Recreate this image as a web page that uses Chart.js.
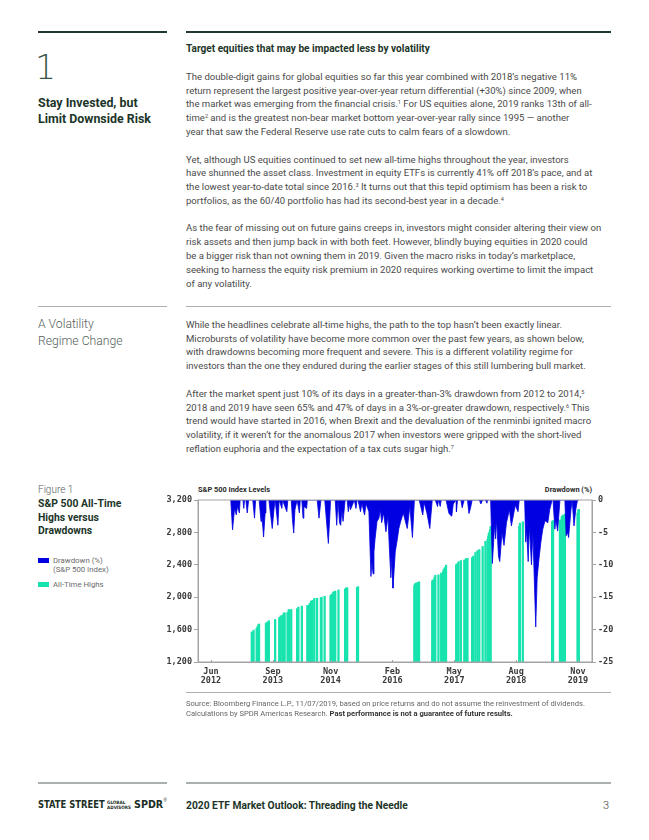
<!DOCTYPE html>
<html>
<head>
<meta charset="utf-8">
<script src="https://cdn.jsdelivr.net/npm/chart.js@4.4.1/dist/chart.umd.min.js"></script>
<style>
  html, body { margin: 0; padding: 0; background: #fff; }
  body { width: 649px; height: 840px; position: relative; overflow: hidden; font-family: Roboto, "Liberation Sans", sans-serif; }
  .abs { position: absolute; white-space: nowrap; }
  .rule { position: absolute; height: 1px; background: #a9b0ad; }
  .rule.dark { height: 2px; background: #1f3a2d; }
  .body { font-size: 9.55px; line-height: 13.8px; color: #4a4a4a; }
  .body sup { font-size: 5.5px; line-height: 0; vertical-align: 3.5px; }
  .head { color: #1c3528; font-weight: 700; }
  .light { color: #55605a; font-weight: 300; }
  .legend { font-size: 7.8px; color: #6a6a6a; line-height: 9px; }
  .sw { position: absolute; width: 11px; height: 4.5px; }
  #chartBox { position: absolute; left: 140px; top: 480px; width: 490px; height: 215px; }
</style>
</head>
<body>

<div class="rule dark" style="left:38px; top:31px; width:129px;"></div>
<div class="rule dark" style="left:186px; top:31px; width:425px;"></div>

<div class="abs" style="left:35px; top:51px; font-family:'DejaVu Sans', sans-serif; font-weight:200; font-size:33px; line-height:33px; color:#3b5548;">1</div>
<div class="abs head" style="left:38px; top:95px; font-size:12.4px; line-height:16px;">Stay Invested, but<br>Limit Downside Risk</div>

<div class="abs head" style="left:186px; top:42px; font-size:10.1px; line-height:14px;">Target equities that may be impacted less by volatility</div>

<div class="abs body" style="left:186px; top:69.8px;">
The double-digit gains for global equities so far this year combined with 2018’s negative 11%<br>
return represent the largest positive year-over-year return differential (+30%) since 2009, when<br>
the market was emerging from the financial crisis.<sup>1</sup> For US equities alone, 2019 ranks 13th of all-<br>
time<sup>2</sup> and is the greatest non-bear market bottom year-over-year rally since 1995 — another<br>
year that saw the Federal Reserve use rate cuts to calm fears of a slowdown.
</div>

<div class="abs body" style="left:186px; top:152.6px;">
Yet, although US equities continued to set new all-time highs throughout the year, investors<br>
have shunned the asset class. Investment in equity ETFs is currently 41% off 2018’s pace, and at<br>
the lowest year-to-date total since 2016.<sup>3</sup> It turns out that this tepid optimism has been a risk to<br>
portfolios, as the 60/40 portfolio has had its second-best year in a decade.<sup>4</sup>
</div>

<div class="abs body" style="left:186px; top:221.4px;">
As the fear of missing out on future gains creeps in, investors might consider altering their view on<br>
risk assets and then jump back in with both feet. However, blindly buying equities in 2020 could<br>
be a bigger risk than not owning them in 2019. Given the macro risks in today’s marketplace,<br>
seeking to harness the equity risk premium in 2020 requires working overtime to limit the impact<br>
of any volatility.
</div>

<div class="rule" style="left:38px; top:306px; width:129px;"></div>
<div class="rule" style="left:186px; top:306px; width:425px;"></div>

<div class="abs light" style="left:38px; top:316.4px; font-size:12.2px; line-height:16.6px;">A Volatility<br>Regime Change</div>

<div class="abs body" style="left:186px; top:317.8px;">
While the headlines celebrate all-time highs, the path to the top hasn’t been exactly linear.<br>
Microbursts of volatility have become more common over the past few years, as shown below,<br>
with drawdowns becoming more frequent and severe. This is a different volatility regime for<br>
investors than the one they endured during the earlier stages of this still lumbering bull market.
</div>

<div class="abs body" style="left:186px; top:386.8px;">
After the market spent just 10% of its days in a greater-than-3% drawdown from 2012 to 2014,<sup>5</sup><br>
2018 and 2019 have seen 65% and 47% of days in a 3%-or-greater drawdown, respectively.<sup>6</sup> This<br>
trend would have started in 2016, when Brexit and the devaluation of the renminbi ignited macro<br>
volatility, if it weren’t for the anomalous 2017 when investors were gripped with the short-lived<br>
reflation euphoria and the expectation of a tax cuts sugar high.<sup>7</sup>
</div>

<div class="abs light" style="left:38px; top:483px; font-size:10px; line-height:14px;">Figure 1</div>
<div class="abs head" style="left:38px; top:497.2px; font-size:10.4px; line-height:13.5px;">S&amp;P 500 All-Time<br>Highs versus<br>Drawdowns</div>

<div class="sw" style="left:38px; top:558.3px; background:#0000e1;"></div>
<div class="abs legend" style="left:53px; top:556.2px;">Drawdown (%)<br>(S&amp;P 500 Index)</div>
<div class="sw" style="left:38px; top:582px; background:#17e3ae;"></div>
<div class="abs legend" style="left:53px; top:579.5px;">All-Time Highs</div>

<div class="abs head" style="left:198px; top:485px; font-size:7.4px; line-height:10px; color:#2a2a2a;">S&amp;P 500 Index Levels</div>
<div class="abs head" style="right:57px; top:485px; font-size:7.4px; line-height:10px; color:#2a2a2a;">Drawdown (%)</div>

<div id="chartBox"><canvas id="ddChart" width="490" height="215"></canvas></div>

<div class="rule" style="left:186px; top:692px; width:425px;"></div>
<div class="abs" style="left:186px; top:699.3px; font-size:7.6px; line-height:9.5px; color:#666;">
Source: Bloomberg Finance L.P., 11/07/2019, based on price returns and do not assume the reinvestment of dividends.<br>
Calculations by SPDR Americas Research. <b style="color:#333;">Past performance is not a guarantee of future results.</b>
</div>

<div class="rule" style="left:38px; top:782px; width:129px; height:1.5px;"></div>
<div class="rule" style="left:186px; top:782px; width:425px; height:1.5px;"></div>

<div class="abs fit" data-w="67" style="left:38px; top:798px; font: bold 11px/14px 'DejaVu Sans Condensed', sans-serif; color:#1c2e25;">STATE STREET</div>
<div class="abs fit" data-w="24" style="left:107px; top:800px; font: bold 4.6px/5px 'DejaVu Sans Condensed', sans-serif; color:#1c2e25;">GLOBAL<br>ADVISORS</div>
<div class="abs fit" data-w="29" style="left:134px; top:798px; font: bold 11px/14px 'DejaVu Sans Condensed', sans-serif; color:#1c2e25;">SPDR</div>
<div class="abs" style="left:163.5px; top:798px; font: 4.5px/5px sans-serif; color:#1c2e25;">®</div>
<div class="abs head" style="left:186px; top:798.5px; font-size:10.25px; line-height:14px;">2020 ETF Market Outlook: Threading the Needle</div>
<div class="abs light" style="left:603px; top:798.5px; font-size:11px; line-height:14px; color:#444;">3</div>

<script>
// fit logo pieces to their width
document.querySelectorAll('.fit').forEach((el) => {
    const w = el.scrollWidth;
    el.style.transformOrigin = '0 0';
    el.style.transform = 'scaleX(' + (el.dataset.w / w) + ')';
});

// Drawdown (%) from all-time high, vertices
const ddDates = [
    '2012-10-25', '2012-11-08', '2012-11-16', '2012-11-23', '2012-12-05', '2012-12-14', '2012-12-28', '2013-01-03',
    '2013-01-24', '2013-01-30', '2013-02-05', '2013-02-15', '2013-02-25', '2013-03-05', '2013-04-05', '2013-04-18',
    '2013-04-26', '2013-05-22', '2013-06-05', '2013-06-10', '2013-06-24', '2013-07-05', '2013-07-11', '2013-08-02',
    '2013-08-27', '2013-09-09', '2013-09-18', '2013-10-08', '2013-10-17', '2013-11-07', '2013-11-12', '2013-12-13',
    '2013-12-20', '2014-01-15', '2014-01-24', '2014-02-03', '2014-02-12', '2014-02-28', '2014-03-14', '2014-03-21',
    '2014-04-02', '2014-04-11', '2014-04-17', '2014-05-07', '2014-05-12', '2014-07-24', '2014-08-07', '2014-08-21',
    '2014-09-19', '2014-10-15', '2014-10-27', '2014-10-31', '2014-12-05', '2014-12-16', '2014-12-26', '2015-01-06',
    '2015-01-15', '2015-01-23', '2015-02-02', '2015-02-17', '2015-03-02', '2015-03-10', '2015-03-20', '2015-03-26',
    '2015-04-24', '2015-05-06', '2015-05-14', '2015-05-21', '2015-06-09', '2015-06-19', '2015-07-08', '2015-07-20',
    '2015-08-10', '2015-08-25', '2015-09-02', '2015-09-10', '2015-09-17', '2015-09-25', '2015-10-09', '2015-10-23',
    '2015-11-03', '2015-11-13', '2015-11-27', '2015-12-14', '2015-12-29', '2016-01-08', '2016-01-20', '2016-01-29',
    '2016-02-05', '2016-02-22', '2016-03-08', '2016-03-18', '2016-04-01', '2016-04-20', '2016-05-19', '2016-06-08',
    '2016-06-27', '2016-07-11', '2016-08-16', '2016-09-12', '2016-09-22', '2016-10-12', '2016-11-03', '2016-11-21',
    '2016-12-13', '2016-12-30', '2017-01-06', '2017-01-19', '2017-01-26', '2017-03-01', '2017-03-22', '2017-03-27',
    '2017-04-13', '2017-04-24', '2017-05-15', '2017-05-17', '2017-05-25', '2017-06-19', '2017-06-29', '2017-07-07',
    '2017-07-14', '2017-08-07', '2017-08-18', '2017-08-29', '2017-09-11', '2017-11-03', '2017-11-15', '2017-11-28',
    '2017-12-18', '2017-12-29', '2018-01-03', '2018-01-26', '2018-02-08', '2018-02-26', '2018-03-02', '2018-03-09',
    '2018-03-23', '2018-04-02', '2018-04-18', '2018-05-03', '2018-05-21', '2018-06-12', '2018-06-27', '2018-07-25',
    '2018-08-15', '2018-08-24', '2018-09-20', '2018-10-03', '2018-10-11', '2018-10-17', '2018-10-29', '2018-11-07',
    '2018-11-23', '2018-12-03', '2018-12-24', '2019-01-04', '2019-01-18', '2019-02-01', '2019-02-15', '2019-03-01',
    '2019-03-22', '2019-04-05', '2019-04-23', '2019-04-30', '2019-05-13', '2019-05-20', '2019-06-03', '2019-06-20',
    '2019-07-26', '2019-08-05', '2019-08-15', '2019-08-23', '2019-09-10', '2019-09-19', '2019-10-02', '2019-10-15',
    '2019-10-28', '2019-11-07'
];
const ddValues = [
    0, -4.6, -2.8, -1.3, -2.3, -1.0, -2.0, 0,
    0, -1.3, 0, 0, -2.0, 0, 0, -2.8,
    0, 0, -3.3, -2.0, -5.7, -2.0, 0, 0,
    -4.4, -1.5, 0, -3.9, 0, -1.3, 0, -1.8,
    0, 0, -3.0, -5.1, -1.5, 0, -2.0, 0,
    0, -2.8, -1.0, -1.3, 0, 0, -2.8, 0,
    0, -6.7, -2.0, 0, 0, -3.9, 0, -3.5,
    -3.9, -1.5, -3.3, 0, 0, -1.8, -0.5, -1.5,
    0, -1.3, 0, 0, -1.8, -0.5, -2.3, -0.6,
    -1.8, -11.8, -9.5, -11.4, -8.0, -6.0, -3.3, -2.8,
    -1.5, -3.5, -2.0, -4.9, -2.5, -7.0, -12.0, -8.5,
    -13.6, -8.0, -5.9, -4.4, -3.3, -2.0, -4.4, -1.0,
    -5.8, 0, 0, -2.3, -0.4, -2.0, -4.4, 0,
    0, -1.0, 0, -1.0, 0, 0, -2.0, -2.2,
    -2.5, -0.6, 0, -1.8, 0, 0, -1.2, -0.5,
    0, 0, -2.1, -1.3, 0, 0, -0.6, 0,
    0, -0.5, 0, 0, -9.8, -3.5, -6.0, -3.0,
    -8.7, -9.5, -5.0, -7.0, -3.5, -1.5, -4.0, -0.8,
    -1.8, 0, 0, 0, -6.5, -4.5, -9.5, -4.0,
    -10.0, -5.0, -19.6, -12.0, -9.0, -6.5, -4.5, -3.2,
    -3.5, -1.5, 0, 0, -4.5, -3.0, -4.8, 0,
    0, -5.5, -5.0, -5.8, -1.5, 0, -4.0, -1.5,
    0, 0
];

// All-time high closes of the S&P 500
const athDates = [
    '2013-03-28', '2013-04-02', '2013-04-11', '2013-05-03', '2013-05-08', '2013-05-15', '2013-05-21', '2013-07-11',
    '2013-07-15', '2013-07-22', '2013-08-02', '2013-09-18', '2013-10-18', '2013-10-22', '2013-10-29', '2013-11-13',
    '2013-11-22', '2013-11-27', '2013-12-18', '2013-12-26', '2013-12-31', '2014-01-15', '2014-02-28', '2014-03-07',
    '2014-04-02', '2014-05-12', '2014-05-23', '2014-05-30', '2014-06-09', '2014-06-20', '2014-07-03', '2014-07-23',
    '2014-08-21', '2014-08-26', '2014-09-18', '2014-10-31', '2014-11-07', '2014-11-13', '2014-11-21', '2014-11-28',
    '2014-12-05', '2014-12-29', '2015-02-17', '2015-02-24', '2015-03-02', '2015-05-14', '2015-05-21', '2016-07-11',
    '2016-07-14', '2016-07-22', '2016-08-05', '2016-08-15', '2016-11-21', '2016-11-25', '2016-12-07', '2016-12-13',
    '2017-01-06', '2017-01-26', '2017-02-10', '2017-02-15', '2017-02-24', '2017-03-01', '2017-05-15', '2017-05-25',
    '2017-06-02', '2017-06-19', '2017-07-14', '2017-07-26', '2017-08-07', '2017-09-11', '2017-09-20', '2017-10-05',
    '2017-10-20', '2017-11-03', '2017-11-28', '2017-12-18', '2018-01-03', '2018-01-08', '2018-01-12', '2018-01-17',
    '2018-01-22', '2018-01-26', '2018-08-24', '2018-08-29', '2018-09-20', '2019-04-23', '2019-04-30', '2019-06-20',
    '2019-07-03', '2019-07-12', '2019-07-26', '2019-10-28', '2019-11-04', '2019-11-07'
];
const athLevels = [
    1569, 1570, 1593, 1614, 1632, 1658, 1669, 1675,
    1683, 1695, 1709, 1725, 1745, 1754, 1771, 1782,
    1804, 1807, 1811, 1842, 1848, 1848, 1859, 1878,
    1890, 1897, 1900, 1924, 1951, 1963, 1985, 1987,
    1992, 2000, 2011, 2018, 2032, 2039, 2063, 2067,
    2075, 2090, 2100, 2115, 2117, 2121, 2131, 2137,
    2163, 2175, 2183, 2190, 2198, 2213, 2241, 2271,
    2277, 2298, 2316, 2349, 2367, 2396, 2402, 2416,
    2439, 2453, 2459, 2477, 2480, 2488, 2508, 2552,
    2575, 2588, 2627, 2690, 2713, 2748, 2786, 2803,
    2833, 2873, 2875, 2914, 2931, 2934, 2946, 2954,
    2996, 3014, 3026, 3040, 3078, 3085
];

// Axis labels
const xTickMonths = ['Jun', 'Sep', 'Nov', 'Feb', 'May', 'Aug', 'Nov'];
const xTickYears = ['2012', '2013', '2014', '2016', '2017', '2018', '2019'];
const levelTicks = [1200, 1600, 2000, 2400, 2800, 3200];
const drawdownTicks = [0, -5, -10, -15, -20, -25];

const MONTHS = ['Jan', 'Feb', 'Mar', 'Apr', 'May', 'Jun', 'Jul', 'Aug', 'Sep', 'Oct', 'Nov', 'Dec'];

// months since Jan 2012
function toMonths(s) {
    const [y, m, d] = s.split('-').map(Number);
    return (y - 2012) * 12 + (m - 1) + (d - 1) / 30.4;
}

const xTickPos = xTickMonths.map((m, i) => (Number(xTickYears[i]) - 2012) * 12 + MONTHS.indexOf(m));

const tickFont = { family: "'DejaVu Sans Mono', monospace", size: 8.5, weight: 'bold', lineHeight: 1.1 };
const tickColor = '#3a3a3a';
const axisGray = '#a3a3a3';

const frame = {
    id: 'frame',
    afterDraw(chart) {
        const { ctx, chartArea: a } = chart;
        ctx.save();
        ctx.strokeStyle = axisGray;
        ctx.lineWidth = 1;
        ctx.strokeRect(a.left, a.top, a.right - a.left, a.bottom - a.top);
        // short inward marks at the date labels
        const x = chart.scales.x;
        ctx.beginPath();
        xTickPos.forEach((v) => {
            const px = Math.round(x.getPixelForValue(v)) + 0.5;
            ctx.moveTo(px, a.bottom);
            ctx.lineTo(px, a.bottom - 2);
        });
        ctx.stroke();
        ctx.restore();
    }
};

new Chart(document.getElementById('ddChart').getContext('2d'), {
    type: 'bar',
    data: {
        datasets: [
            {
                type: 'line',
                label: 'Drawdown (%)',
                data: ddDates.map((d, i) => ({ x: toMonths(d), y: ddValues[i] })),
                yAxisID: 'y1',
                borderColor: '#0000e1',
                borderWidth: 0.8,
                backgroundColor: '#0000e1',
                fill: 'origin',
                pointRadius: 0,
                tension: 0,
                order: 0,
            },
            {
                type: 'bar',
                label: 'All-Time Highs',
                data: athDates.map((d, i) => ({ x: toMonths(d), y: athLevels[i] })),
                yAxisID: 'y',
                backgroundColor: '#17e3ae',
                barThickness: 1.6,
                order: 1,
            },
        ],
    },
    options: {
        responsive: false,
        animation: false,
        layout: { padding: { top: 20 } },
        plugins: { legend: { display: false }, tooltip: { enabled: false } },
        scales: {
            x: {
                type: 'linear',
                offset: false,
                min: 1.85,
                max: 97.4,
                afterBuildTicks: (s) => { s.ticks = xTickPos.map((v) => ({ value: v })); },
                afterFit: (s) => { s.height = 33; },
                ticks: {
                    autoSkip: false,
                    maxRotation: 0,
                    padding: 5,
                    font: tickFont,
                    color: tickColor,
                    callback: (v, i) => [xTickMonths[i], xTickYears[i]],
                },
                grid: { drawOnChartArea: false, drawTicks: false, tickLength: 0 },
                border: { color: axisGray },
            },
            y: {
                position: 'left',
                min: 1200,
                max: 3200,
                afterBuildTicks: (s) => { s.ticks = levelTicks.map((v) => ({ value: v })); },
                afterFit: (s) => { s.width = 58; },
                ticks: {
                    padding: 2,
                    font: tickFont,
                    color: tickColor,
                    callback: (v) => v.toLocaleString('en-US'),
                },
                grid: { drawOnChartArea: false, tickLength: 4, color: axisGray },
                border: { color: axisGray },
            },
            y1: {
                position: 'right',
                min: -25,
                max: 0,
                afterBuildTicks: (s) => { s.ticks = drawdownTicks.map((v) => ({ value: v })); },
                afterFit: (s) => { s.width = 38; },
                ticks: {
                    padding: 2,
                    font: tickFont,
                    color: tickColor,
                },
                grid: { drawOnChartArea: false, tickLength: 4, color: axisGray },
                border: { color: axisGray },
            },
        },
    },
    plugins: [frame],
});
</script>
</body>
</html>
